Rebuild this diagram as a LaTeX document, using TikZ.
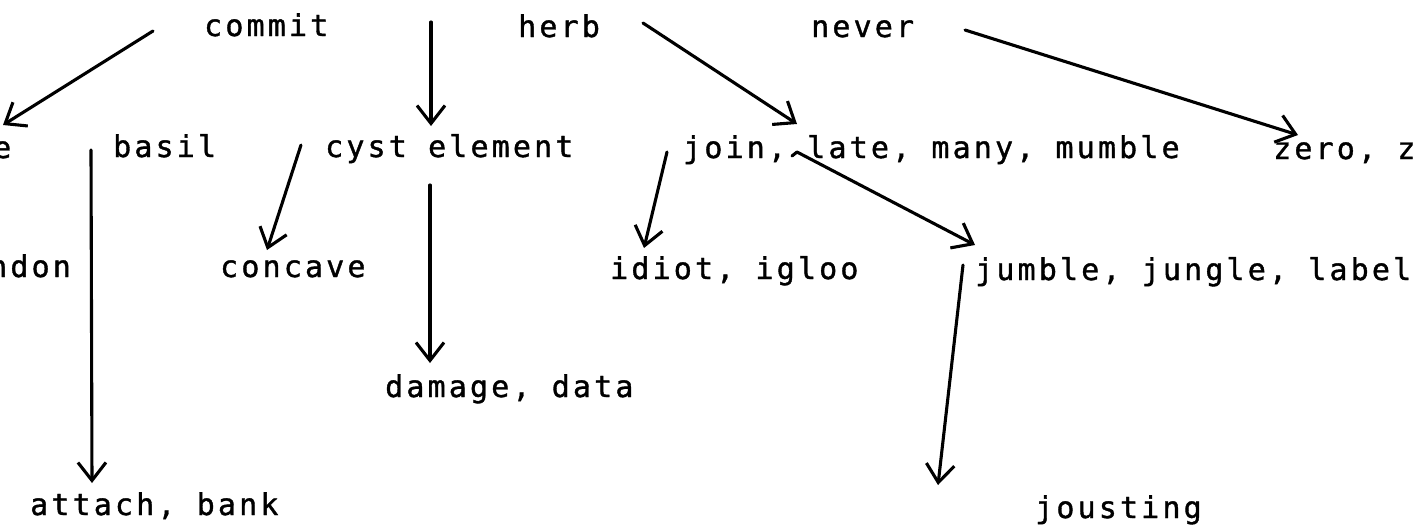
\documentclass[tikz,border=0pt]{standalone}
\usepackage{fontspec}
\setmonofont{DejaVu Sans Mono}[LetterSpace=10.5,FakeBold=1.2]
\usetikzlibrary{arrows.meta}
\begin{document}
\begin{tikzpicture}[x=1pt,y=-1pt,
  lbl/.style={anchor=base west, inner sep=0pt, font=\ttfamily\fontsize{30}{32}\selectfont},
  arr/.style={line width=3.1pt, line cap=round, line join=round, -{Straight Barb[length=18pt,width=28pt]}}]
\useasboundingbox (0,0) rectangle (1416,531);
\clip (0,0) rectangle (1416,531);
\fill[white] (0,0) rectangle (1416,531);
% texts
\node[lbl] (commit) at (204,36) {commit};
\node[lbl] (herb) at (518,37) {herb};
\node[lbl] (never) at (811,37) {never};
\node[lbl] (e) at (-7,158) {e};
\node[lbl] (basil) at (113,157) {basil};
\node[lbl] (cyst) at (325,157) {cyst element};
\node[lbl] (join) at (683,158) {join, late, many, mumble};
\node[lbl] (zero) at (1273,159) {zero, z};
\node[lbl] (ndon) at (-11,277) {ndon};
\node[lbl] (concave) at (220,277) {concave};
\node[lbl] (idiot) at (610,279) {idiot, igloo};
\node[lbl] (jumble) at (975,280) {jumble, jungle, label};
\node[lbl] (damage) at (385,397) {damage, data};
\node[lbl] (attach) at (30,515) {attach, bank};
\node[lbl] (jousting) at (1035,518) {jousting};
% connector ends
\coordinate (a1s) at (153,31);  \coordinate (a1e) at (3,125);
\coordinate (a2s) at (431,22);  \coordinate (a2e) at (431,126);
\coordinate (a3s) at (643,23);  \coordinate (a3e) at (797,124);
\coordinate (a4s) at (965,30);  \coordinate (a4e) at (1298,135);
\coordinate (a5s) at (91,150);  \coordinate (a5e) at (92,483);
\coordinate (a6s) at (301,145); \coordinate (a6e) at (267,250);
\coordinate (a7s) at (430,185); \coordinate (a7e) at (430,363);
\coordinate (a8s) at (667,152); \coordinate (a8e) at (644,248);
\coordinate (a9s) at (792,156); \coordinate (a9m) at (797,152); \coordinate (a9e) at (975,245);
\coordinate (a10s) at (963,265); \coordinate (a10e) at (938,485);
\draw[arr] (a1s) -- (a1e);
\draw[arr] (a2s) -- (a2e);
\draw[arr] (a3s) -- (a3e);
\draw[arr] (a4s) -- (a4e);
\draw[arr] (a5s) -- (a5e);
\draw[arr] (a6s) -- (a6e);
\draw[arr] (a7s) -- (a7e);
\draw[arr] (a8s) -- (a8e);
\draw[arr] (a9s) -- (a9m) -- (a9e);
\draw[arr] (a10s) -- (a10e);
\end{tikzpicture}
\end{document}
